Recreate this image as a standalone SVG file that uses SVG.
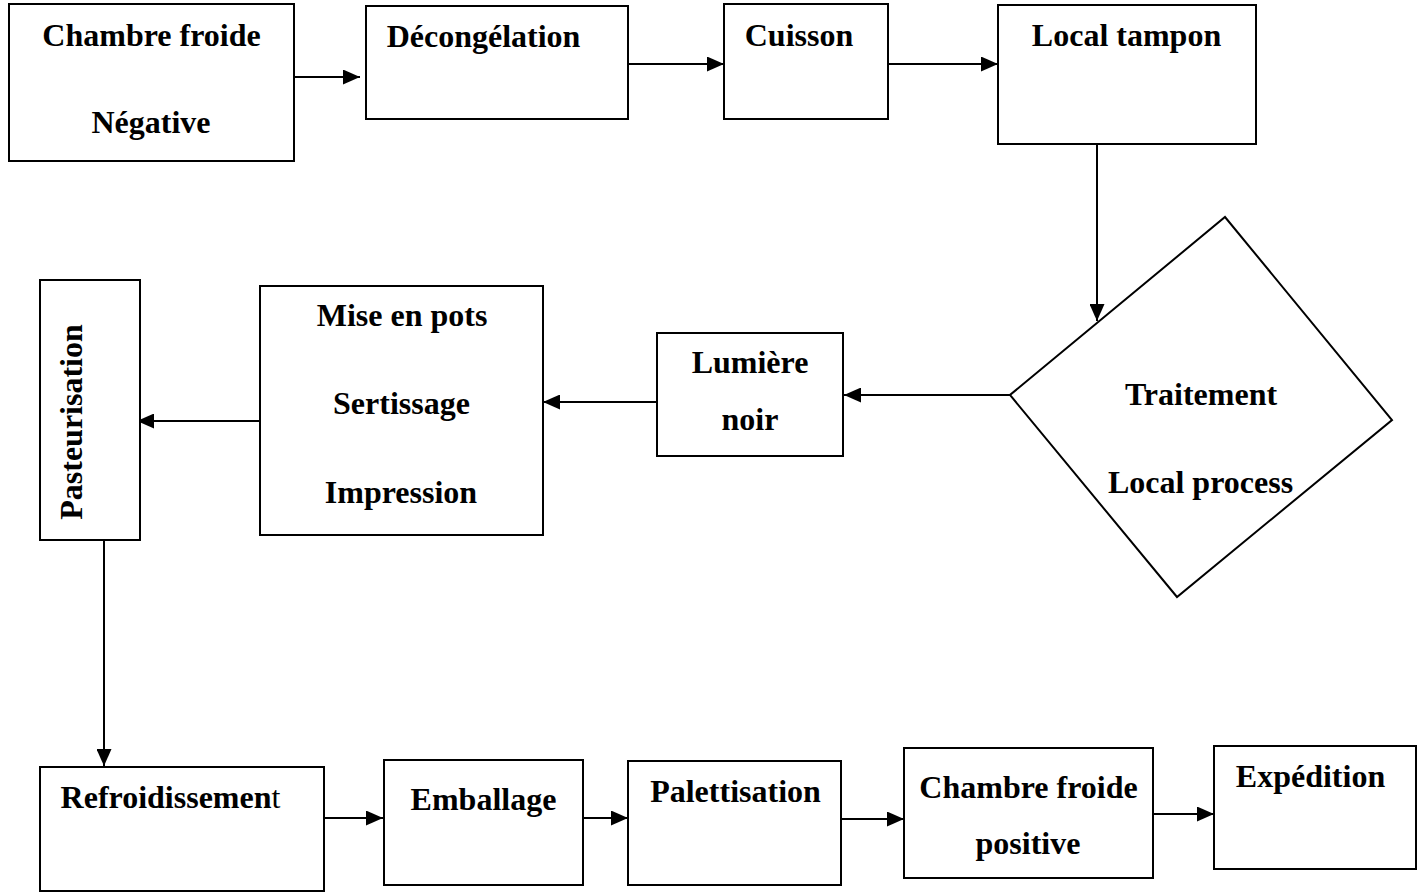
<svg xmlns="http://www.w3.org/2000/svg" width="1418" height="894" viewBox="0 0 1418 894">
  <style>
    .box { fill: #ffffff; stroke: #000000; stroke-width: 2; }
    .lbl { font-family: "Liberation Serif", "Times New Roman", serif; font-weight: bold; font-size: 32px; fill: #000000; text-anchor: middle; }
    .edge { fill: none; stroke: #000000; stroke-width: 2; marker-end: url(#arrow); }
  </style>
  <defs>
    <marker id="arrow" markerUnits="userSpaceOnUse" markerWidth="17" markerHeight="15" refX="17" refY="7.5" orient="auto">
      <path d="M0,0 L17,7.5 L0,15 Z" fill="#000000"/>
    </marker>
  </defs>

  <rect width="1418" height="894" fill="#ffffff"/>

  <!-- connectors -->
  <g id="connectors">
    <line class="edge" x1="294" y1="77" x2="360" y2="77"/>
    <line class="edge" x1="628" y1="64" x2="724" y2="64"/>
    <line class="edge" x1="888" y1="64" x2="998" y2="64"/>
    <line class="edge" x1="1097" y1="144" x2="1097" y2="321"/>
    <line class="edge" x1="1010" y1="395" x2="844" y2="395"/>
    <line class="edge" x1="657" y1="402" x2="543" y2="402"/>
    <line class="edge" x1="260" y1="421" x2="137" y2="421"/>
    <line class="edge" x1="104" y1="540" x2="104" y2="766"/>
    <line class="edge" x1="325" y1="818" x2="383" y2="818"/>
    <line class="edge" x1="583" y1="818" x2="628" y2="818"/>
    <line class="edge" x1="841" y1="819" x2="904" y2="819"/>
    <line class="edge" x1="1153" y1="814" x2="1214" y2="814"/>
  </g>

  <!-- top row -->
  <g id="chambre-froide-negative">
    <rect class="box" x="9" y="4" width="285" height="157"/>
    <text class="lbl" x="151.5" y="46">Chambre froide</text>
    <text class="lbl" x="151" y="133">Négative</text>
  </g>
  <g id="decongelation">
    <rect class="box" x="366" y="6" width="262" height="113"/>
    <text class="lbl" x="483.5" y="47">Décongélation</text>
  </g>
  <g id="cuisson">
    <rect class="box" x="724" y="4" width="164" height="115"/>
    <text class="lbl" x="799" y="46">Cuisson</text>
  </g>
  <g id="local-tampon">
    <rect class="box" x="998" y="5" width="258" height="139"/>
    <text class="lbl" x="1126.5" y="46">Local tampon</text>
  </g>

  <!-- middle row -->
  <g id="traitement">
    <polygon class="box" points="1225,217 1392,420 1177,597 1010,395"/>
    <text class="lbl" x="1201" y="405">Traitement</text>
    <text class="lbl" x="1200.5" y="493">Local process</text>
  </g>
  <g id="lumiere-noir">
    <rect class="box" x="657" y="333" width="186" height="123"/>
    <text class="lbl" x="750" y="373">Lumière</text>
    <text class="lbl" x="750" y="430">noir</text>
  </g>
  <g id="mise-en-pots">
    <rect class="box" x="260" y="286" width="283" height="249"/>
    <text class="lbl" x="402" y="326">Mise en pots</text>
    <text class="lbl" x="401.5" y="414">Sertissage</text>
    <text class="lbl" x="401" y="503">Impression</text>
  </g>
  <g id="pasteurisation">
    <rect class="box" x="40" y="280" width="100" height="260"/>
    <text class="lbl" transform="translate(82,422) rotate(-90)" x="0" y="0">Pasteurisation</text>
  </g>

  <!-- bottom row -->
  <g id="refroidissement">
    <rect class="box" x="40" y="767" width="284" height="124"/>
    <text class="lbl" x="170.5" y="808">Refroidissemen<tspan font-weight="normal">t</tspan></text>
  </g>
  <g id="emballage">
    <rect class="box" x="384" y="760" width="199" height="125"/>
    <text class="lbl" x="483.5" y="810">Emballage</text>
  </g>
  <g id="palettisation">
    <rect class="box" x="628" y="761" width="213" height="124"/>
    <text class="lbl" x="735.5" y="802">Palettisation</text>
  </g>
  <g id="chambre-froide-positive">
    <rect class="box" x="904" y="748" width="249" height="130"/>
    <text class="lbl" x="1028.5" y="798">Chambre froide</text>
    <text class="lbl" x="1028" y="854">positive</text>
  </g>
  <g id="expedition">
    <rect class="box" x="1214" y="746" width="202" height="123"/>
    <text class="lbl" x="1310.5" y="787">Expédition</text>
  </g>
</svg>
